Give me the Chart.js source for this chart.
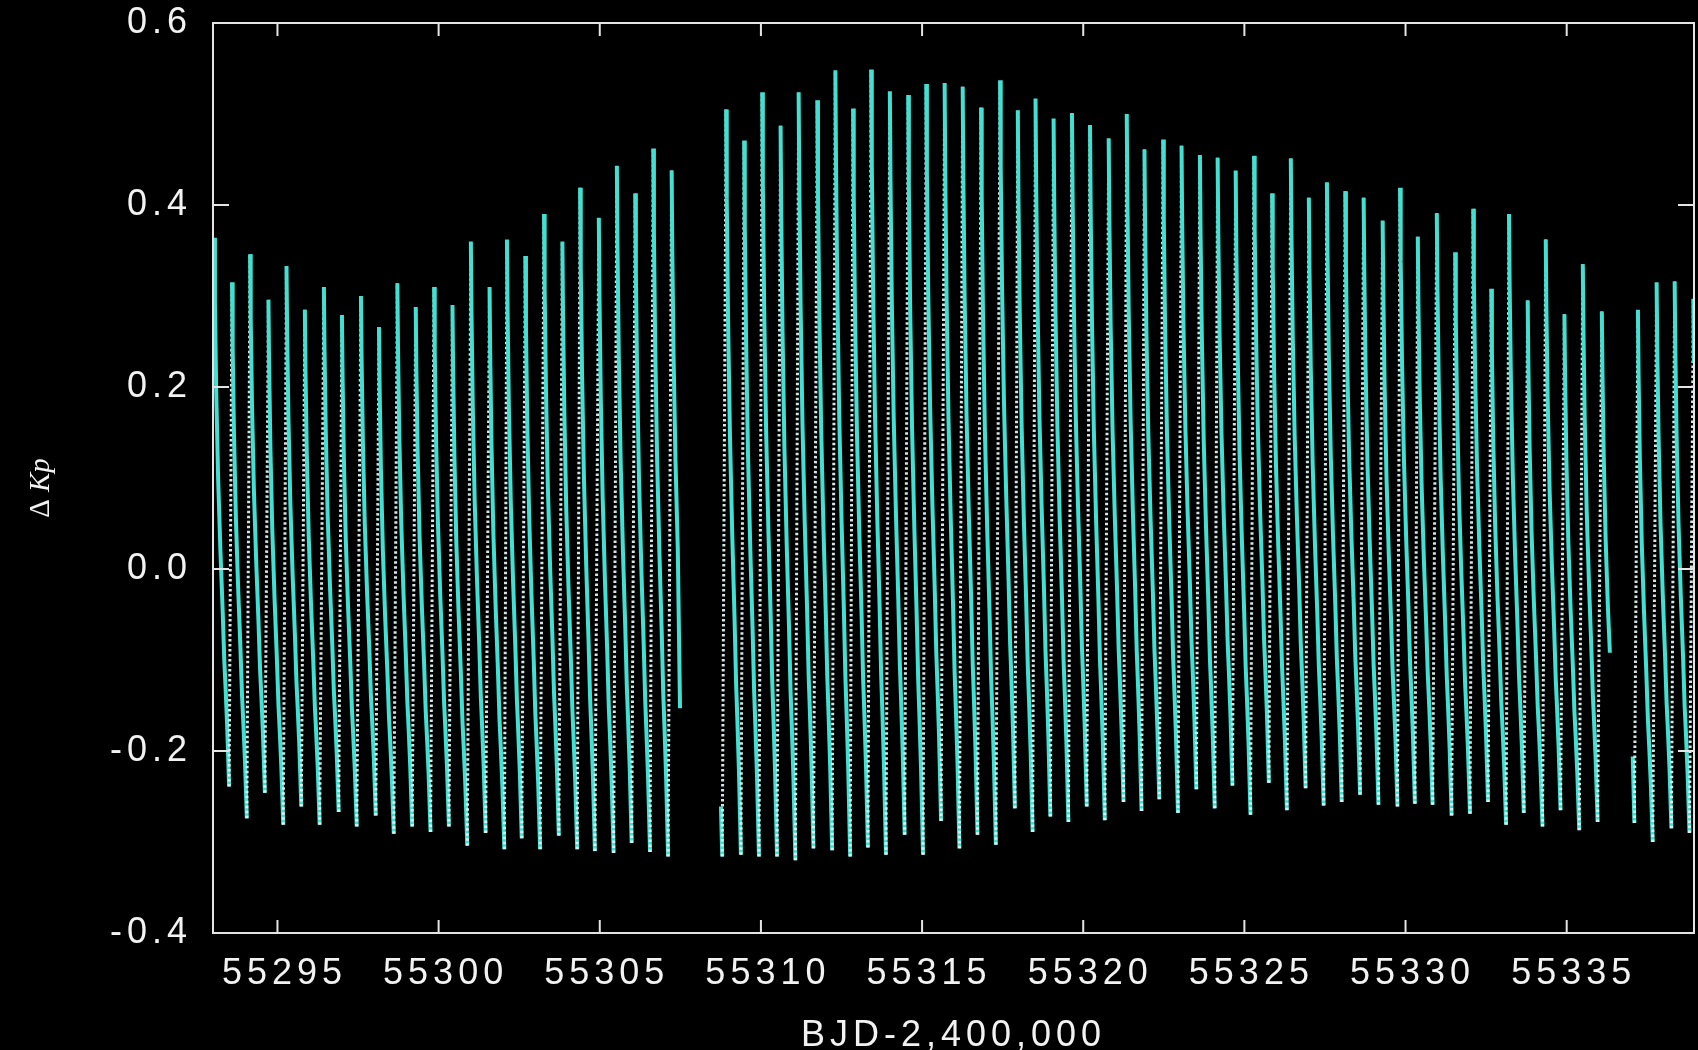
<!DOCTYPE html>
<html>
<head>
<meta charset="utf-8">
<title>RR Lyr light curve</title>
<script src="https://cdn.jsdelivr.net/npm/chart.js@4.4.1/dist/chart.umd.min.js"></script>
<style>
  html, body { margin: 0; padding: 0; background: #000; }
  canvas { display: block; }
</style>
</head>
<body>
<canvas id="lightCurve" width="1698" height="1050"></canvas>
<script>
// ========================================
// KEPLER LIGHT CURVE - dKp vs BJD
// ========================================

// Time of each light maximum (BJD-2,400,000)
const maxTimes = [
    55293.04, 55293.59, 55294.15, 55294.72, 55295.28, 55295.85, 55296.44, 55297.00,
    55297.59, 55298.15, 55298.72, 55299.29, 55299.86, 55300.43, 55301.00, 55301.58,
    55302.12, 55302.69, 55303.27, 55303.84, 55304.39, 55304.97, 55305.53, 55306.10,
    55306.66, 55307.23,
    55308.92, 55309.48, 55310.04, 55310.61, 55311.17, 55311.75, 55312.31, 55312.86,
    55313.42, 55314.00, 55314.57, 55315.13, 55315.70, 55316.26, 55316.83, 55317.42,
    55317.97, 55318.52, 55319.08, 55319.65, 55320.21, 55320.79, 55321.35, 55321.90,
    55322.48, 55323.05, 55323.62, 55324.17, 55324.73, 55325.30, 55325.86, 55326.44,
    55327.00, 55327.56, 55328.13, 55328.70, 55329.29, 55329.83, 55330.38, 55330.97,
    55331.54, 55332.10, 55332.66, 55333.21, 55333.79, 55334.35, 55334.93, 55335.50,
    55336.09,
    55337.21, 55337.79, 55338.35, 55338.93
];

// Brightness at each maximum
const maxValues = [
    0.364, 0.315, 0.346, 0.296, 0.333, 0.285, 0.310, 0.279,
    0.300, 0.266, 0.314, 0.288, 0.310, 0.290, 0.360, 0.310,
    0.362, 0.344, 0.390, 0.360, 0.419, 0.386, 0.443, 0.413,
    0.462, 0.438,
    0.505, 0.471, 0.524, 0.487, 0.524, 0.515, 0.548, 0.506,
    0.549, 0.525, 0.521, 0.533, 0.534, 0.530, 0.507, 0.537,
    0.504, 0.517, 0.495, 0.501, 0.488, 0.473, 0.500, 0.461,
    0.472, 0.465, 0.455, 0.452, 0.438, 0.454, 0.413, 0.451,
    0.408, 0.425, 0.415, 0.408, 0.383, 0.419, 0.365, 0.391,
    0.348, 0.396, 0.308, 0.390, 0.295, 0.362, 0.280, 0.335,
    0.283,
    0.285, 0.315, 0.316, 0.297
];

// Minimum reached at the end of the decline that follows each maximum
const minValues = [
    -0.239, -0.274, -0.246, -0.281, -0.261, -0.281, -0.267, -0.283,
    -0.271, -0.291, -0.283, -0.289, -0.283, -0.304, -0.290, -0.308,
    -0.296, -0.308, -0.293, -0.308, -0.310, -0.312, -0.301, -0.311,
    -0.316, -0.290,
    -0.314, -0.316, -0.316, -0.320, -0.307, -0.309, -0.316, -0.306,
    -0.314, -0.292, -0.314, -0.277, -0.307, -0.292, -0.303, -0.263,
    -0.289, -0.272, -0.278, -0.261, -0.276, -0.256, -0.266, -0.253,
    -0.268, -0.242, -0.263, -0.238, -0.270, -0.235, -0.265, -0.241,
    -0.260, -0.256, -0.248, -0.259, -0.261, -0.258, -0.259, -0.271,
    -0.269, -0.256, -0.281, -0.268, -0.283, -0.265, -0.287, -0.278,
    -0.290,
    -0.300, -0.285, -0.290, -0.290
];

// Shape of one pulsation after maximum: days since max, fraction of the max-min range
const shapeDays   = [0, 0.02, 0.06, 0.12, 0.19, 0.26, 0.31, 0.35, 0.40, 0.46];
const shapeLevels = [1, 0.88, 0.72, 0.56, 0.43, 0.32, 0.23, 0.18, 0.11, 0];

// Data gaps: last point before, first points after
const gapStartTimes  = [55307.49, 55336.34];
const gapStartValues = [-0.153, -0.092];
const gapEndTimes    = [55308.76, 55337.05];
const gapEndValues   = [-0.261, -0.206];
const gapEndMinTimes = [55308.80, 55337.10];
const gapEndMins     = [-0.316, -0.279];

// Axes
const xRange = [55293.0, 55338.95];
const yRange = [-0.4, 0.6];
const xStep = 5;
const yStep = 0.2;

const curveColor = "rgb(66, 224, 210)";
const riseColor = "rgba(220, 244, 244, 0.95)";
const frameColor = "#e4e4e4";
const textColor = "#f2f2f2";
const sansFont = "'Liberation Sans', Arial, Helvetica, sans-serif";
const serifFont = "'Liberation Serif', 'Times New Roman', serif";

// Turn the per-cycle values into the plotted point list
function buildCurve() {
    const pts = [];
    maxTimes.forEach((t, i) => {
        pts.push({ x: t, y: maxValues[i] });
        const g = gapStartTimes.findIndex(s => s > t && s < t + 0.5);
        const span = maxValues[i] - minValues[i];
        for (let k = 1; k < shapeDays.length; k++) {
            const tk = t + shapeDays[k];
            if (g >= 0 && tk >= gapStartTimes[g]) break;
            pts.push({ x: tk, y: minValues[i] + shapeLevels[k] * span });
        }
        if (g >= 0) {
            pts.push({ x: gapStartTimes[g], y: gapStartValues[g] });
            pts.push({ x: gapStartTimes[g], y: null });
            pts.push({ x: gapEndTimes[g], y: gapEndValues[g] });
            pts.push({ x: gapEndMinTimes[g], y: gapEndMins[g] });
        }
    });
    return pts;
}

const isRise = c => c.p1.parsed.y > c.p0.parsed.y;

// Black page, wide lettering like the plotting package uses
const backdrop = {
    id: "backdrop",
    beforeDraw(chart) {
        const ctx = chart.ctx;
        ctx.save();
        ctx.fillStyle = "#000";
        ctx.fillRect(0, 0, chart.width, chart.height);
        ctx.restore();
        ctx.letterSpacing = "5px";
    }
};

// Closed frame with inward ticks on all four sides
const frame = {
    id: "frame",
    afterDraw(chart) {
        const { ctx, chartArea: a, scales } = chart;
        ctx.save();
        ctx.strokeStyle = frameColor;
        ctx.lineWidth = 2;
        ctx.strokeRect(a.left, a.top, a.right - a.left, a.bottom - a.top);
        ctx.beginPath();
        scales.x.ticks.forEach(t => {
            const px = scales.x.getPixelForValue(t.value);
            ctx.moveTo(px, a.bottom); ctx.lineTo(px, a.bottom - 13);
            ctx.moveTo(px, a.top); ctx.lineTo(px, a.top + 13);
        });
        scales.y.ticks.forEach(t => {
            const py = scales.y.getPixelForValue(t.value);
            ctx.moveTo(a.left, py); ctx.lineTo(a.left + 16, py);
            ctx.moveTo(a.right, py); ctx.lineTo(a.right - 16, py);
        });
        ctx.stroke();

        // Y axis title: upright delta, italic Kp
        ctx.letterSpacing = "0px";
        ctx.fillStyle = textColor;
        ctx.translate(41, (a.top + a.bottom) / 2 + 10);
        ctx.rotate(-Math.PI / 2);
        ctx.textBaseline = "middle";
        ctx.font = `29px ${serifFont}`;
        const delta = "\u0394 ";
        const w1 = ctx.measureText(delta).width;
        ctx.font = `italic 29px ${serifFont}`;
        const w2 = ctx.measureText("Kp").width;
        const x0 = -(w1 + w2) / 2;
        ctx.font = `29px ${serifFont}`;
        ctx.fillText(delta, x0, 0);
        ctx.font = `italic 29px ${serifFont}`;
        ctx.fillText("Kp", x0 + w1, 0);
        ctx.restore();
    }
};

window.addEventListener("load", () => {
    const ctx = document.getElementById("lightCurve").getContext("2d");
    const tickFont = { family: sansFont, size: 36 };

    new Chart(ctx, {
        type: "line",
        data: {
            datasets: [{
                data: buildCurve(),
                borderColor: curveColor,
                borderWidth: 4,
                pointRadius: 0,
                tension: 0,
                spanGaps: false,
                clip: 0,
                segment: {
                    borderColor: c => isRise(c) ? riseColor : curveColor,
                    borderDash: c => isRise(c) ? [2.5, 2.5] : [],
                    borderWidth: c => isRise(c) ? 3 : 4
                }
            }]
        },
        options: {
            responsive: false,
            animation: false,
            layout: { padding: { top: 23, right: 4, left: 0, bottom: 0 } },
            plugins: {
                legend: { display: false },
                tooltip: { enabled: false }
            },
            scales: {
                x: {
                    type: "linear",
                    min: xRange[0],
                    max: xRange[1],
                    grid: { display: false, drawTicks: false },
                    border: { display: false },
                    ticks: {
                        stepSize: xStep,
                        includeBounds: false,
                        autoSkip: false,
                        maxRotation: 0,
                        padding: 19,
                        labelOffset: 7,
                        color: textColor,
                        font: tickFont,
                        callback: v => String(v)
                    },
                    title: {
                        display: true,
                        text: "BJD-2,400,000",
                        color: textColor,
                        font: { family: sansFont, size: 36, lineHeight: 0.8 },
                        padding: { top: 0, bottom: 0 }
                    },
                    afterFit: s => {
                        s.height = 117;
                        s.paddingLeft = 0;
                        s.paddingRight = 0;
                    }
                },
                y: {
                    type: "linear",
                    min: yRange[0],
                    max: yRange[1],
                    grid: { display: false, drawTicks: false },
                    border: { display: false },
                    ticks: {
                        stepSize: yStep,
                        padding: 21,
                        color: textColor,
                        font: tickFont,
                        callback: v => Math.abs(v) < 1e-9 ? "0.0" : v.toFixed(1)
                    },
                    afterFit: s => {
                        s.width = 213;
                        s.paddingTop = 0;
                        s.paddingBottom = 0;
                    }
                }
            }
        },
        plugins: [backdrop, frame]
    });
});
</script>
</body>
</html>
